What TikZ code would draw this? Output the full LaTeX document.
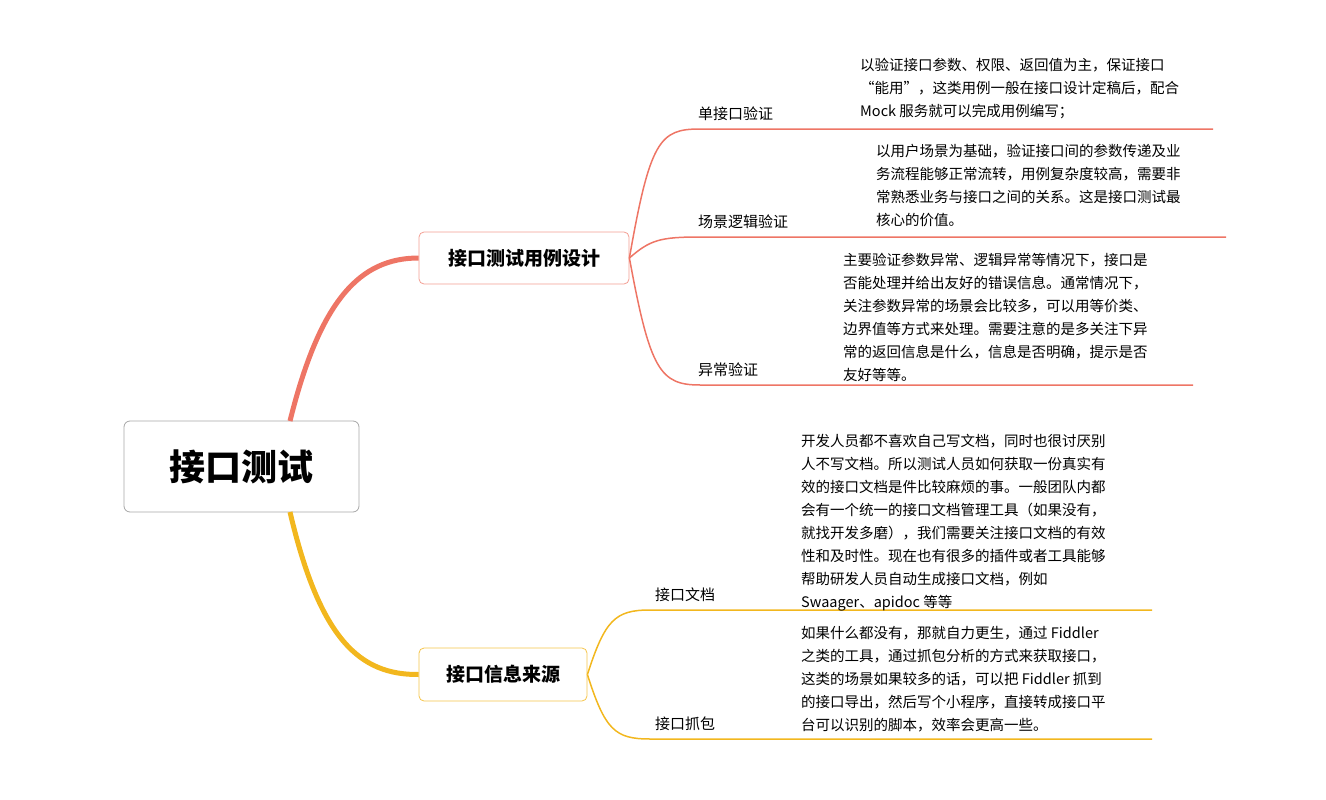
\documentclass[tikz,border=0pt]{standalone}
\usepackage{fontspec}
\setmainfont{Noto Sans CJK SC}
\usetikzlibrary{positioning}
\definecolor{redline}{HTML}{EE7565}
\definecolor{yelline}{HTML}{F2B71E}
\tikzset{
  topic/.style={draw=#1, rounded corners=5pt, line width=0.8pt, font=\fontsize{19}{22}\selectfont\bfseries, fill=white},
  leaf/.style={anchor=south west, inner sep=1pt, font=\fontsize{15}{18}\selectfont},
  note/.style={anchor=north west, align=left, inner sep=0pt, font=\fontsize{14.5}{23}\selectfont}
}
\begin{document}
\begin{tikzpicture}[x=1pt,y=-1pt]
\useasboundingbox (0,0) rectangle (1326,800);

% main topics
\node[draw=gray!70, rounded corners=6pt, line width=0.8pt, minimum width=235pt, minimum height=91pt,
  font=\fontsize{36}{40}\selectfont\bfseries] (root) at (241.5,466.5) {接口测试};
\node[topic=redline!70, minimum width=210pt, minimum height=52pt] (design) at (524,258) {接口测试用例设计};
\node[topic=yelline!80, minimum width=168pt, minimum height=53pt] (source) at (503,674.5) {接口信息来源};

\draw[redline, line width=5pt] (290,421) .. controls (320,300) and (360,258) .. (design.west);
\draw[yelline, line width=5pt] (290,512) .. controls (320,640) and (360,675) .. (source.west);

% leaves of design
\draw[redline, line width=1.5pt] (design.east) .. controls (650,140) and (660,129) .. (700,129) -- (1213,129);
\draw[redline, line width=1.5pt] (design.east) .. controls (650,240) and (660,237) .. (700,237) -- (1226,237);
\draw[redline, line width=1.5pt] (design.east) .. controls (650,370) and (660,385) .. (700,385) -- (1193,385);
\node[leaf] (single) at (697,122) {单接口验证};
\node[leaf] (scene) at (697,230) {场景逻辑验证};
\node[leaf] (error) at (697,378) {异常验证};

\node[note] (singlenote) at (860,58) {以验证接口参数、权限、返回值为主，保证接口\\“能用”，这类用例一般在接口设计定稿后，配合\\Mock 服务就可以完成用例编写；};
\node[note] (scenenote) at (876,144) {以用户场景为基础，验证接口间的参数传递及业\\务流程能够正常流转，用例复杂度较高，需要非\\常熟悉业务与接口之间的关系。这是接口测试最\\核心的价值。};
\node[note] (errornote) at (843,253) {主要验证参数异常、逻辑异常等情况下，接口是\\否能处理并给出友好的错误信息。通常情况下，\\关注参数异常的场景会比较多，可以用等价类、\\边界值等方式来处理。需要注意的是多关注下异\\常的返回信息是什么，信息是否明确，提示是否\\友好等等。};

% leaves of source
\draw[yelline, line width=1.5pt] (source.east) .. controls (605,620) and (615,610) .. (650,610) -- (1152,610);
\draw[yelline, line width=1.5pt] (source.east) .. controls (605,730) and (615,739) .. (650,739) -- (1152,739);
\node[leaf] (doc) at (654,603) {接口文档};
\node[leaf] (capture) at (654,732) {接口抓包};

\node[note] (docnote) at (801,434) {开发人员都不喜欢自己写文档，同时也很讨厌别\\人不写文档。所以测试人员如何获取一份真实有\\效的接口文档是件比较麻烦的事。一般团队内都\\会有一个统一的接口文档管理工具（如果没有，\\就找开发多磨），我们需要关注接口文档的有效\\性和及时性。现在也有很多的插件或者工具能够\\帮助研发人员自动生成接口文档，例如\\Swaager、apidoc 等等};
\node[note] (capturenote) at (801,626) {如果什么都没有，那就自力更生，通过 Fiddler\\之类的工具，通过抓包分析的方式来获取接口，\\这类的场景如果较多的话，可以把 Fiddler 抓到\\的接口导出，然后写个小程序，直接转成接口平\\台可以识别的脚本，效率会更高一些。};
\end{tikzpicture}
\end{document}
